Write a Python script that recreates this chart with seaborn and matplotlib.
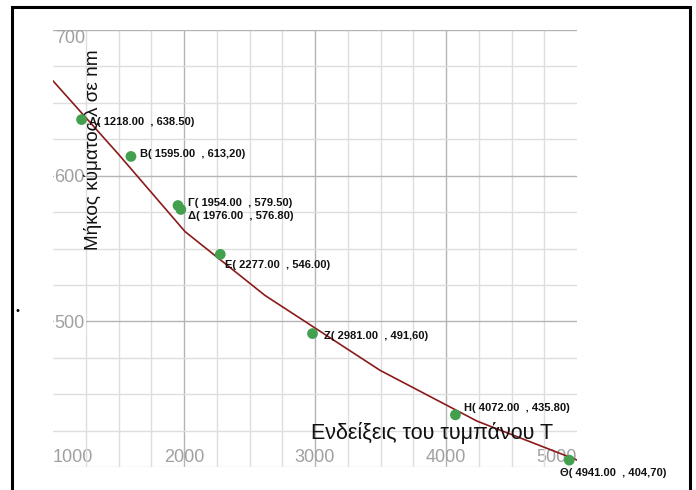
import numpy as np
import pandas as pd
import matplotlib
matplotlib.use('Agg')
import matplotlib.pyplot as plt
import seaborn as sns
from matplotlib.ticker import MultipleLocator, FixedLocator
from matplotlib.patches import Rectangle

# measured points
point_names = ['Α', 'Β', 'Γ', 'Δ', 'Ε', 'Ζ', 'Η', 'Θ']
drum_T = [1218.00, 1595.00, 1954.00, 1976.00, 2277.00, 2981.00, 4072.00, 4941.00]
wavelength = [638.50, 613.20, 579.50, 576.80, 546.00, 491.60, 435.80, 404.70]
point_labels = ['Α( 1218.00  , 638.50)', 'Β( 1595.00  , 613,20)',
                'Γ( 1954.00  , 579.50)', 'Δ( 1976.00  , 576.80)',
                'Ε( 2277.00  , 546.00)', 'Ζ( 2981.00  , 491,60)',
                'Η( 4072.00  , 435.80)', 'Θ( 4941.00  , 404,70)']

# calibration curve
curve_T = [1000, 1496, 2008, 2618, 3496, 4237, 5000]
curve_lambda = [665.1, 615.1, 561.6, 517.8, 466.4, 431.5, 404.8]

x_ticks = [1000, 2000, 3000, 4000, 5000]
y_ticks = [500, 600, 700]

# label offsets in points
label_offsets = [(5, -2), (6.5, 2), (7, 2), (5, -5), (3.5, -8), (8, -2), (6, 5), (-7, -9)]

points = pd.DataFrame({'T': drum_T, 'lam': wavelength, 'name': point_names})
curve = pd.DataFrame({'T': curve_T, 'lam': curve_lambda})

sns.set_theme(style='white')
plt.rcParams['font.family'] = ['Liberation Sans', 'DejaVu Sans']

fig = plt.figure(figsize=(6.96, 4.9), dpi=100)
ax = fig.add_axes([53 / 696, 1 - 467 / 490, 524 / 696, 437 / 490])

ax.set_xlim(1000, 5000)
ax.set_ylim(400, 700)

# grid
ax.xaxis.set_major_locator(FixedLocator(x_ticks))
ax.xaxis.set_minor_locator(MultipleLocator(250))
ax.yaxis.set_major_locator(FixedLocator(y_ticks))
ax.yaxis.set_minor_locator(MultipleLocator(25))
ax.grid(True, which='major', color='#b4b4b4', linewidth=1.0)
ax.grid(True, which='minor', color='#dedede', linewidth=1.0)
ax.set_axisbelow(True)
for s in ax.spines.values():
    s.set_visible(False)

ax.set_xticklabels([str(t) for t in x_ticks])
ax.set_yticklabels([str(t) for t in y_ticks])
ax.tick_params(axis='both', which='both', length=0)
ax.tick_params(axis='x', pad=-13, labelsize=13, labelcolor='#a0a0a0')
ax.tick_params(axis='y', pad=-23, labelsize=13, labelcolor='#a0a0a0')

xl = ax.get_xticklabels()
xl[0].set_horizontalalignment('left')
xl[-1].set_horizontalalignment('right')
yl = ax.get_yticklabels()
yl[-1].set_verticalalignment('top')
for lab in yl[:-1]:
    lab.set_bbox(dict(facecolor='white', edgecolor='none', pad=0.5))

gl = ax.xaxis.get_gridlines()
gl[0].set_visible(False)
gl[-1].set_visible(False)

sns.lineplot(data=curve, x='T', y='lam', sort=False, estimator=None,
             color='#8b1a1a', linewidth=1.2, ax=ax, zorder=3)
sns.scatterplot(data=points, x='T', y='lam', color='#43a04f', s=60,
                edgecolor='none', ax=ax, zorder=4)

for xv, yv, txt, off in zip(drum_T, wavelength, point_labels, label_offsets):
    ax.annotate(txt, (xv, yv), xytext=off, textcoords='offset points',
                ha='left', va='center',
                fontsize=8, fontweight='bold', color='#111111', zorder=5,
                annotation_clip=False)

ax.set_xlabel('')
ax.set_ylabel('')
ax.text(0.077, 0.725, 'Μήκος κύματος λ σε nm', transform=ax.transAxes,
        rotation=90, ha='center', va='center', fontsize=13.7, color='#111111')
ax.text(0.723, 0.078, 'Ενδείξεις του τυμπάνου Τ', transform=ax.transAxes,
        ha='center', va='center', fontsize=15.5, color='#111111')

# outer frame and stray dot
fig.add_artist(Rectangle((12 / 696, -0.05), 678 / 696, 1.05 - 7 / 490,
                         transform=fig.transFigure, fill=False,
                         edgecolor='black', linewidth=2.2))
fig.text(18 / 696, 1 - 311 / 490, '•', fontsize=8, ha='center', va='center',
         color='black')

fig.savefig('out.png', dpi=100)
